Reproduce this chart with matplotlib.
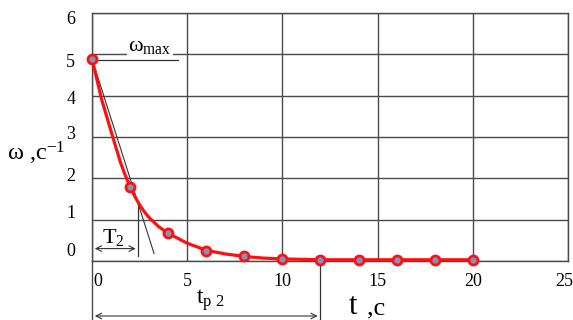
import numpy as np
from matplotlib import pyplot as plt
from matplotlib.transforms import ScaledTranslation

plt.rcParams['font.family'] = ['Liberation Serif', 'DejaVu Serif']
plt.rcParams['mathtext.fontset'] = 'custom'
plt.rcParams['mathtext.rm'] = 'Liberation Serif'
plt.rcParams['mathtext.it'] = 'Liberation Serif'

# measured points (markers)
t_pts = [0, 2, 4, 6, 8, 10, 12, 14, 16, 18, 20]
w_pts = [4.89, 1.80, 0.68, 0.25, 0.11, 0.05, 0.03, 0.03, 0.03, 0.03, 0.03]

# smooth curve
t_curve = [0, 0.5, 1, 1.5, 1.75, 2, 2.25, 2.5, 2.75, 3, 3.5, 4, 5, 6, 7, 8,
           9, 10, 12, 20]
w_curve = [4.89, 3.92, 3.14, 2.38, 2.07, 1.80, 1.56, 1.36, 1.19, 1.05, 0.83,
           0.67, 0.43, 0.26, 0.17, 0.11, 0.07, 0.05, 0.03, 0.03]

# tangent from the start point
tangent_t = [0, 3.26]
tangent_w = [4.89, 0.18]

w_max = 4.86
T2 = 2.44
w_T2 = 1.37
tp2 = 12

xticks = [0, 5, 10, 15, 20, 25]
yticks = [0, 1, 2, 3, 4, 5, 6]
# tick labels in the original are shifted (points, + is up)
ylabel_shift = [8.5, 6.2, 3.0, 3.6, -1.2, -4.3, -3.0]

grid_col = '#4a4a4a'

fig = plt.figure(figsize=(5.73, 3.2), dpi=100)
ax = fig.add_axes([92/573, 1-261/320, 476/573, 248/320])
ax.set_xlim(0, 25)
ax.set_ylim(0, 6)
ax.set_xticks(xticks)
ax.set_yticks(yticks)
ax.grid(True, color=grid_col, lw=1.0)
for s in ax.spines.values():
    s.set_color(grid_col)
    s.set_linewidth(1.0)
ax.tick_params(length=0, labelsize=13)
ax.tick_params(axis='x', pad=9)
ax.tick_params(axis='y', pad=12)
for lab, dy in zip(ax.get_yticklabels(), ylabel_shift):
    lab.set_transform(lab.get_transform() + ScaledTranslation(0, dy/72, fig.dpi_scale_trans))
xl = ax.get_xticklabels()
xl[0].set_transform(xl[0].get_transform() + ScaledTranslation(4/72, 0, fig.dpi_scale_trans))
xl[-1].set_transform(xl[-1].get_transform() + ScaledTranslation(-3/72, 0, fig.dpi_scale_trans))

# tangent and omega_max line
ax.plot(tangent_t, tangent_w, color='#333333', lw=0.8, zorder=3)
ax.plot([0, 4.5], [w_max, w_max], color='#333333', lw=0.9, zorder=3)
ax.text(3.05, 5.2, r'ω$_{\mathrm{max}}$', fontsize=16, ha='center', va='center',
        bbox=dict(facecolor='white', edgecolor='none', pad=1.0), zorder=4)

# curve + markers
ax.plot(t_curve, w_curve, color='#ff1010', lw=2.3, zorder=5,
        solid_capstyle='round', solid_joinstyle='round')
ax.plot(t_pts, w_pts, 'o', ms=6.5, mfc='#7f93c0', mec='#ff1010', mew=2.0, zorder=6,
        clip_on=False)

# T2 construction
ax.plot([T2, T2], [w_T2, 0.11], color='#333333', lw=0.9, zorder=3)
ax.annotate('', xy=(0, 0.30), xytext=(T2, 0.30),
            arrowprops=dict(arrowstyle='<->', color='#333333', lw=0.8))
ax.text(1.12, 0.56, r'T$_2$', fontsize=16, ha='center', va='center')

# tp2 construction below the axis
ax.plot([tp2, tp2], [w_pts[6], -1.45], color='#333333', lw=0.9, clip_on=False)
ax.plot([0, 0], [0, -1.45], color=grid_col, lw=1.0, clip_on=False)
ax.annotate('', xy=(0, -1.33), xytext=(tp2, -1.33), annotation_clip=False,
            arrowprops=dict(arrowstyle='<->', color='#333333', lw=0.8))
ax.text(6.2, -0.95, r't$_{\mathrm{p\ 2}}$', fontsize=17, ha='center', va='center')

# axis labels
ax.text(13.7, -1.1, 't', fontsize=22, ha='center', va='center')
ax.text(14.9, -1.15, ',c', fontsize=19, ha='center', va='center')
fig.text(7/573, 1-153/320, r'ω ,c$^{\mathrm{-1}}$', fontsize=17.5, ha='left', va='center')

fig.savefig('out.png', dpi=100)
